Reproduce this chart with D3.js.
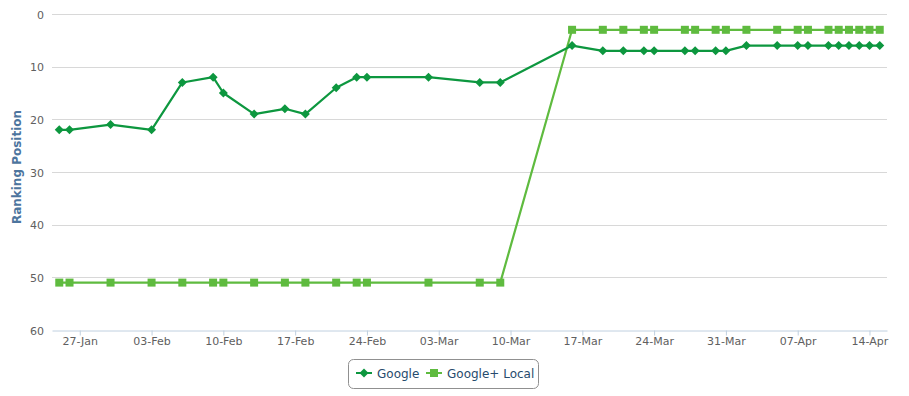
<!DOCTYPE html>
<html>
<head>
<meta charset="utf-8">
<script src="https://cdn.jsdelivr.net/npm/d3@7"></script>
<style>
  html, body { margin: 0; padding: 0; background: #fff; }
  svg { display: block; font-family: "DejaVu Sans", Verdana, sans-serif; }
</style>
</head>
<body>
<svg id="chart" width="909" height="396"></svg>
<script>
// ---- Data ----
const dates = [
  "2014-01-25","2014-01-26","2014-01-30","2014-02-03","2014-02-06","2014-02-09","2014-02-10",
  "2014-02-13","2014-02-16","2014-02-18","2014-02-21","2014-02-23","2014-02-24","2014-03-02",
  "2014-03-07","2014-03-09","2014-03-16","2014-03-19","2014-03-21","2014-03-23","2014-03-24",
  "2014-03-27","2014-03-28","2014-03-30","2014-03-31","2014-04-02","2014-04-05","2014-04-07",
  "2014-04-08","2014-04-10","2014-04-11","2014-04-12","2014-04-13","2014-04-14","2014-04-15"
];
const googleValues = [
  22,22,21,22,13,12,15,
  19,18,19,14,12,12,12,
  13,13,6,7,7,7,7,
  7,7,7,7,6,6,6,
  6,6,6,6,6,6,6
];
const localValues = [
  51,51,51,51,51,51,51,
  51,51,51,51,51,51,51,
  51,51,3,3,3,3,3,
  3,3,3,3,3,3,3,
  3,3,3,3,3,3,3
];
const seriesNames = ["Google", "Google+ Local"];
const xTickDates = ["2014-01-27","2014-02-03","2014-02-10","2014-02-17","2014-02-24","2014-03-03",
  "2014-03-10","2014-03-17","2014-03-24","2014-03-31","2014-04-07","2014-04-14"];
const yTicks = [0, 10, 20, 30, 40, 50, 60];
const yTitle = "Ranking Position";

// ---- Layout ----
const svg = d3.select("#chart");
const pLeft = 52, pRight = 887, pTop = 14, pBottom = 330;
const colors = ["#0d973f", "#5fbb3f"];

const parse = s => new Date(s + "T00:00:00Z");
const x = d3.scaleUtc()
  .domain([new Date(Date.UTC(2014,0,24,7)), new Date(Date.UTC(2014,3,15,17))])
  .range([pLeft, pRight]);
const y = d3.scaleLinear().domain([0, 60]).range([pTop, pBottom]);

// gridlines
svg.append("g").selectAll("line").data(yTicks.filter(t => t !== 60)).join("line")
  .attr("x1", pLeft).attr("x2", pRight)
  .attr("y1", d => Math.round(y(d)) + 0.5).attr("y2", d => Math.round(y(d)) + 0.5)
  .attr("stroke", "#d8d8d8").attr("stroke-width", 1);

// y labels
svg.append("g").selectAll("text").data(yTicks).join("text")
  .attr("x", 44).attr("y", d => y(d) + 4.5)
  .attr("text-anchor", "end").attr("font-size", 11).attr("fill", "#606060")
  .text(d => d);

// y title
svg.append("text")
  .attr("transform", `translate(21,167) rotate(-90)`)
  .attr("text-anchor", "middle").attr("font-size", 12).attr("font-weight", "bold")
  .attr("fill", "#4d759e").text(yTitle);

// x axis
const xAxis = d3.axisBottom(x)
  .tickValues(xTickDates.map(parse))
  .tickFormat(d3.utcFormat("%d-%b"))
  .tickSize(5).tickSizeOuter(0).tickPadding(1.5);
const gx = svg.append("g").attr("transform", `translate(0,${pBottom + 0.5})`).call(xAxis);
gx.select(".domain").attr("stroke", "#c0d0e0");
gx.selectAll(".tick line").attr("stroke", "#c0d0e0");
gx.selectAll(".tick text").attr("fill", "#606060").attr("font-size", 11)
  .attr("font-family", "DejaVu Sans, Verdana, sans-serif");

// series
const series = [googleValues, localValues];
const line = d3.line().x(d => x(d.date)).y(d => y(d.value));
const drawOrder = [1, 0];

function marker(g, idx, cx, cy) {
  if (idx === 0) {
    g.append("path")
      .attr("d", `M${cx},${cy-4.5}L${cx+4.5},${cy}L${cx},${cy+4.5}L${cx-4.5},${cy}Z`)
      .attr("fill", colors[0]);
  } else {
    g.append("rect").attr("x", cx - 4).attr("y", cy - 4).attr("width", 8).attr("height", 8)
      .attr("fill", colors[1]);
  }
}

drawOrder.forEach(i => {
  const pts = dates.map((d, k) => ({ date: parse(d), value: series[i][k] }));
  const g = svg.append("g");
  g.append("path").datum(pts).attr("d", line)
    .attr("fill", "none").attr("stroke", colors[i]).attr("stroke-width", 2.2)
    .attr("stroke-linejoin", "round").attr("stroke-linecap", "round");
  pts.forEach(p => marker(g, i, x(p.date), y(p.value)));
});

// legend
const lg = svg.append("g");
lg.append("rect").attr("x", 348.5).attr("y", 359.5).attr("width", 190).attr("height", 29)
  .attr("rx", 5).attr("ry", 5).attr("fill", "#fff").attr("stroke", "#909090").attr("stroke-width", 1);
const legendItems = [{ x0: 356, tx: 377 }, { x0: 426, tx: 447 }];
legendItems.forEach((it, i) => {
  const cy = 373;
  lg.append("line").attr("x1", it.x0).attr("x2", it.x0 + 16).attr("y1", cy).attr("y2", cy)
    .attr("stroke", colors[i]).attr("stroke-width", 2);
  marker(lg, i, it.x0 + 8, cy);
  lg.append("text").attr("x", it.tx).attr("y", cy + 4.5).attr("font-size", 12)
    .attr("fill", "#274b6d").text(seriesNames[i]);
});
</script>
</body>
</html>
